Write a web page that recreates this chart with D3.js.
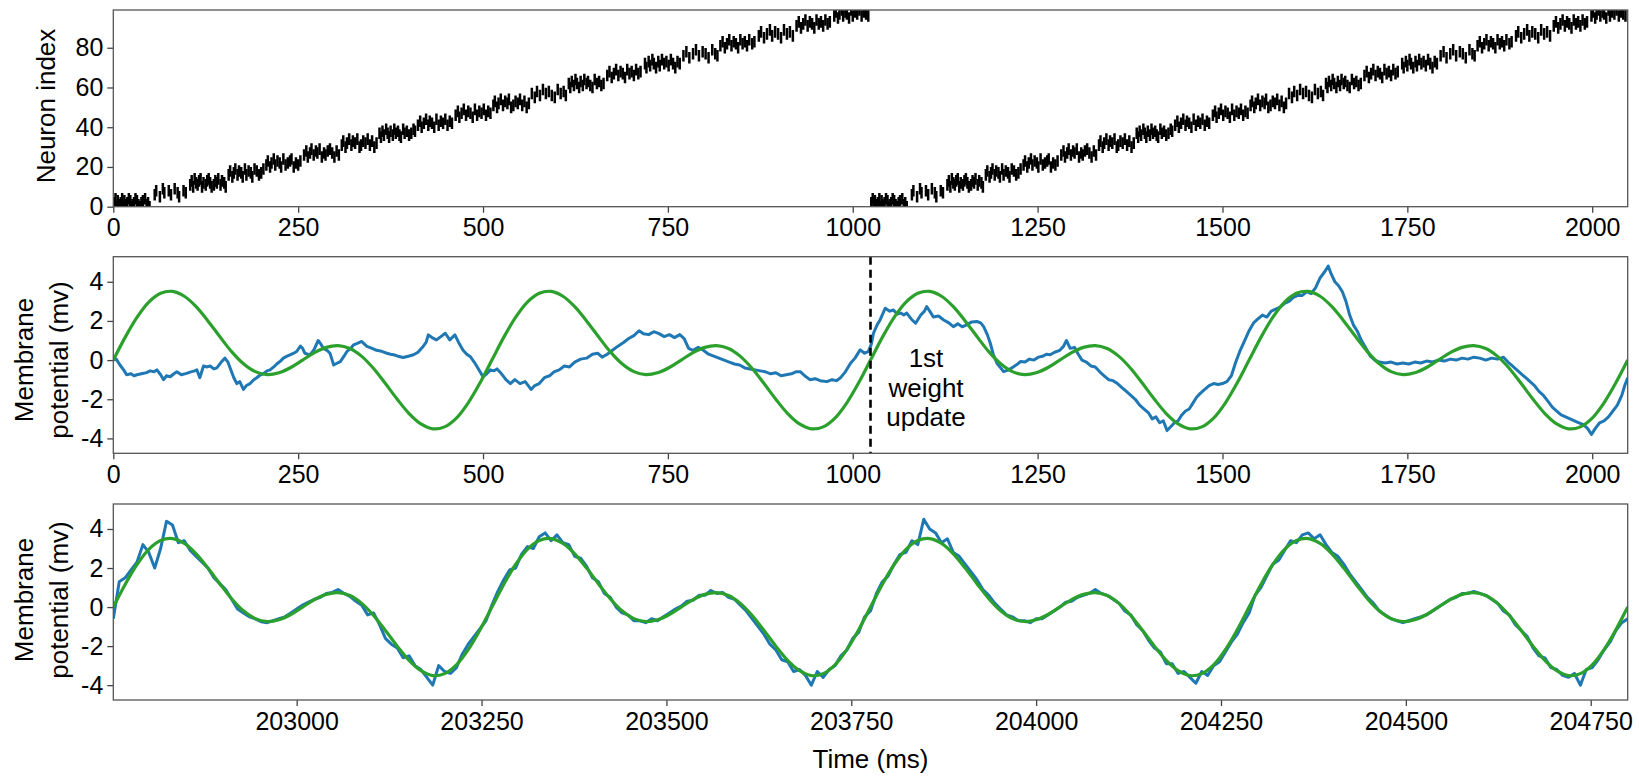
<!DOCTYPE html>
<html><head><meta charset="utf-8">
<script src="https://cdn.jsdelivr.net/npm/d3@7"></script>
<style>
body{margin:0;background:#fff;}
svg text{font-family:"Liberation Sans",Arial,Helvetica,sans-serif;}
</style></head><body>
<svg id="chart" width="1639" height="779"></svg>
<script>
// ---------------- DATA ----------------
// Raster: one input pattern (ms within pattern, neuron index); the pattern is presented at these offsets
const patternOffsets = [0, 1024];
const spikeTimes = [
1,3,4,6,8,10,12,13,15,17,19,21,23,24,26,28,30,32,34,36,38,40,43,45,47,49,
56,58,63,67,69,75,78,83,87,89,95,98,
104,106,108,110,112,114,116,118,120,122,125,127,129,131,133,136,138,140,142,145,147,150,152,
156,158,161,163,165,168,170,173,175,178,180,183,186,188,191,194,197,200,203,
207,209,212,214,217,219,222,225,227,230,233,236,239,241,244,247,250,253,
258,261,263,266,268,271,274,276,279,282,285,287,290,293,296,299,302,305,
309,311,314,316,319,322,324,327,330,333,335,338,341,344,347,350,353,356,
360,362,364,366,369,371,373,375,378,380,382,385,387,389,392,394,397,400,403,406,408,
412,415,417,420,423,426,428,431,434,437,440,443,446,449,452,455,458,
463,466,468,471,474,477,480,483,486,489,492,495,498,501,504,507,510,
514,516,519,521,524,527,530,533,535,538,541,544,547,550,553,556,559,562,
566,570,573,577,581,585,589,593,597,601,605,609,612,
616,618,620,623,625,627,630,632,635,637,640,642,645,648,651,654,657,660,663,
668,671,674,677,680,683,686,689,692,695,698,701,704,707,710,713,
719,721,724,726,729,731,734,737,739,742,745,748,751,754,757,760,763,766,
771,775,779,784,788,792,797,801,805,810,814,817,
821,824,827,830,833,836,839,842,845,848,851,854,857,860,864,867,
873,876,880,884,888,891,895,899,903,907,911,915,919,
924,927,930,933,936,939,942,945,948,951,954,957,960,963,966,969,
975,977,980,982,985,987,990,992,995,998,1000,1003,1006,1009,1012,1015,1018,1021
];
const spikeNeurons = [
2,4,0,3,1,2,4,0,3,1,2,4,3,0,1,2,4,3,1,0,2,3,4,1,2,0,
6,8,5,9,7,8,6,9,7,5,8,7,
11,13,10,14,12,11,13,14,10,12,11,13,14,12,10,11,13,12,14,11,13,12,10,
16,18,15,17,19,16,18,17,15,19,16,18,17,15,19,18,16,17,19,
21,23,20,22,24,21,23,22,20,24,21,22,23,24,20,22,21,23,
26,28,25,27,29,26,28,27,29,25,27,26,28,29,27,25,28,26,
31,33,30,32,34,31,33,32,34,30,31,33,32,34,31,33,30,32,
37,35,38,36,39,37,35,38,36,39,37,38,36,35,39,37,38,36,37,39,38,
41,43,40,42,44,41,43,42,40,44,41,43,42,44,41,43,42,
46,48,45,47,49,46,48,47,45,49,46,48,47,49,46,48,47,
51,53,50,52,54,51,53,52,54,50,51,53,52,54,51,53,50,52,
57,55,58,56,59,57,58,56,55,59,57,58,56,
62,60,63,61,64,62,60,63,61,64,62,63,61,60,64,62,63,61,62,
66,68,65,67,69,66,68,67,65,69,67,68,66,69,67,68,
72,70,73,71,74,72,70,73,71,74,72,73,71,74,72,70,73,72,
76,78,75,77,79,76,78,77,75,79,77,76,
81,83,80,82,84,81,83,82,80,84,82,83,81,84,82,83,
86,88,85,87,89,86,88,87,85,89,87,88,86,
91,93,90,92,94,91,93,92,90,94,92,93,91,94,92,93,
96,98,95,97,99,96,98,97,95,99,96,98,97,99,96,98,97,96
];

// Target membrane potential (mV), sampled every 16 ms
const targetStep = 16;
const targetValues = [
0,1.16,2.18,2.96,3.41,3.51,3.26,2.73,2.0,1.2,0.43,-0.19,-0.59,-0.74,-0.65,-0.38,0,0.38,0.65,0.74,0.59,0.19,-0.43,-1.2,-2.0,-2.73,-3.26,-3.51,-3.41,-2.96,-2.18,-1.16,
0,1.16,2.18,2.96,3.41,3.51,3.26,2.73,2.0,1.2,0.43,-0.19,-0.59,-0.74,-0.65,-0.38,0,0.38,0.65,0.74,0.59,0.19,-0.43,-1.2,-2.0,-2.73,-3.26,-3.51,-3.41,-2.96,-2.18,-1.16,
0,1.16,2.18,2.96,3.41,3.51,3.26,2.73,2.0,1.2,0.43,-0.19,-0.59,-0.74,-0.65,-0.38,0,0.38,0.65,0.74,0.59,0.19,-0.43,-1.2,-2.0,-2.73,-3.26,-3.51,-3.41,-2.96,-2.18,-1.16,
0,1.16,2.18,2.96,3.41,3.51,3.26,2.73,2.0,1.2,0.43,-0.19,-0.59,-0.74,-0.65,-0.38,0,0.38,0.65,0.74,0.59,0.19,-0.43,-1.2,-2.0,-2.73,-3.26,-3.51,-3.41,-2.96,-2.18,-1.16,
0
];

// Membrane potential during first 2048 ms: [time ms, mV]
const trainTrace = [
[0,0.0],[4,0.05],[9,-0.25],[14,-0.5],[18,-0.75],[24,-0.7],[28,-0.8],[32,-0.75],[38,-0.7],[45,-0.64],
[50,-0.55],[55,-0.6],[59,-0.5],[64,-0.75],[68,-1.0],[72,-0.8],[77,-0.85],[82,-0.7],[86,-0.6],[92,-0.75],
[99,-0.68],[105,-0.6],[110,-0.55],[113,-0.5],[117,-0.9],[122,-0.3],[127,-0.35],[131,-0.3],[136,-0.45],[140,-0.4],
[146,-0.1],[151,0.1],[155,-0.1],[158,-0.4],[163,-0.9],[167,-1.2],[171,-1.1],[176,-1.5],[180,-1.3],[185,-1.2],
[190,-1.0],[194,-0.9],[199,-0.75],[203,-0.7],[208,-0.55],[212,-0.5],[217,-0.35],[221,-0.2],[226,-0.05],[230,0.1],
[235,0.2],[239,0.27],[244,0.35],[248,0.44],[253,0.72],[256,0.6],[259,0.35],[263,0.3],[266,0.27],[271,0.5],
[277,1.0],[281,0.8],[284,0.6],[289,0.5],[293,0.35],[296,0.0],[298,-0.25],[303,-0.15],[307,-0.08],[312,0.2],
[316,0.44],[321,0.6],[325,0.78],[330,0.85],[336,0.95],[340,0.8],[343,0.7],[350,0.6],[356,0.5],[363,0.45],
[370,0.35],[375,0.3],[379,0.27],[385,0.2],[392,0.13],[399,0.2],[406,0.27],[412,0.4],[419,0.7],[423,0.9],
[426,1.29],[431,1.15],[437,1.03],[443,1.2],[449,1.37],[455,1.03],[462,1.29],[467,0.9],[473,0.5],[478,0.3],
[483,0.17],[488,-0.1],[492,-0.34],[496,-0.6],[500,-0.85],[505,-0.7],[510,-0.5],[515,-0.55],[519,-0.45],[525,-0.7],
[531,-1.0],[537,-1.2],[543,-1.0],[550,-1.2],[557,-1.1],[565,-1.5],[570,-1.3],[576,-1.2],[583,-0.9],[590,-0.8],
[596,-0.6],[603,-0.5],[610,-0.3],[617,-0.35],[624,-0.1],[632,0.05],[640,0.1],[648,0.3],[655,0.35],[661,0.15],
[668,0.3],[675,0.5],[682,0.7],[690,0.9],[697,1.1],[704,1.25],[711,1.5],[717,1.35],[724,1.3],[731,1.45],
[738,1.35],[745,1.2],[752,1.3],[759,1.15],[766,1.3],[772,1.1],[778,0.6],[784,0.5],[791,0.65],[798,0.5],
[805,0.3],[812,0.2],[819,0.1],[826,0.0],[833,-0.1],[840,-0.2],[847,-0.25],[854,-0.4],[861,-0.45],[868,-0.5],
[875,-0.55],[882,-0.6],[889,-0.7],[896,-0.65],[903,-0.8],[910,-0.75],[917,-0.7],[923,-0.6],[929,-0.59],[935,-0.8],
[942,-1.0],[949,-0.95],[956,-1.05],[965,-1.1],[972,-1.0],[978,-1.05],[983,-0.92],[990,-0.6],[997,-0.16],[1003,0.1],
[1010,0.52],[1016,0.35],[1021,0.43],[1025,0.8],[1028,1.37],[1033,1.8],[1037,2.05],[1041,2.4],[1044,2.65],[1050,2.5],
[1055,2.56],[1060,2.35],[1065,2.4],[1069,2.3],[1073,2.4],[1079,2.1],[1085,1.88],[1092,2.3],[1097,2.5],[1100,2.73],
[1105,2.45],[1109,2.2],[1116,2.25],[1123,2.05],[1130,1.9],[1136,1.71],[1142,1.85],[1148,1.7],[1154,1.8],[1161,1.95],
[1168,1.97],[1173,1.9],[1177,1.71],[1182,1.3],[1186,0.86],[1190,0.3],[1195,-0.16],[1200,-0.4],[1204,-0.59],[1211,-0.5],
[1218,-0.33],[1223,-0.2],[1227,-0.07],[1233,-0.1],[1239,0.05],[1245,0.0],[1251,0.15],[1257,0.2],[1262,0.3],[1267,0.27],
[1273,0.4],[1280,0.5],[1285,0.7],[1289,1.0],[1294,0.6],[1300,0.65],[1305,0.3],[1310,0.0],[1316,-0.1],[1322,-0.3],
[1328,-0.35],[1334,-0.6],[1340,-0.8],[1346,-1.0],[1352,-1.05],[1358,-1.2],[1364,-1.4],[1370,-1.6],[1376,-1.8],[1382,-2.0],
[1388,-2.3],[1394,-2.5],[1400,-2.7],[1405,-3.0],[1410,-2.9],[1415,-3.2],[1420,-3.1],[1425,-3.6],[1430,-3.4],[1435,-3.2],
[1440,-3.1],[1445,-2.8],[1450,-2.6],[1455,-2.5],[1460,-2.2],[1465,-1.9],[1470,-1.7],[1476,-1.5],[1482,-1.3],[1488,-1.2],
[1494,-1.25],[1500,-1.2],[1506,-1.1],[1512,-0.8],[1518,-0.1],[1524,0.5],[1530,1.0],[1536,1.5],[1542,1.9],[1548,2.1],
[1554,2.3],[1560,2.2],[1566,2.5],[1572,2.6],[1578,2.7],[1584,2.9],[1590,3.0],[1596,3.2],[1602,3.3],[1608,3.3],
[1614,3.5],[1620,3.4],[1626,3.7],[1632,4.2],[1638,4.5],[1643,4.8],[1647,4.4],[1652,4.0],[1657,3.8],[1662,3.5],
[1667,3.0],[1672,2.3],[1677,1.8],[1682,1.5],[1688,1.0],[1694,0.6],[1700,0.2],[1706,0.0],[1712,-0.1],[1720,-0.15],
[1728,-0.1],[1736,-0.2],[1744,-0.15],[1752,-0.2],[1760,-0.1],[1768,-0.15],[1776,-0.05],[1784,-0.1],[1792,0.0],[1800,-0.05],
[1808,0.05],[1816,0.0],[1824,0.1],[1832,0.05],[1840,0.15],[1848,0.1],[1856,0.0],[1864,0.1],[1872,0.05],[1880,0.15],
[1886,-0.1],[1892,-0.3],[1898,-0.5],[1904,-0.7],[1910,-0.9],[1916,-1.1],[1922,-1.3],[1928,-1.6],[1934,-1.8],[1940,-2.1],
[1946,-2.4],[1952,-2.6],[1958,-2.8],[1964,-2.9],[1970,-3.0],[1976,-3.1],[1982,-3.2],[1988,-3.3],[1994,-3.5],[1999,-3.8],
[2004,-3.5],[2010,-3.2],[2016,-3.1],[2022,-2.9],[2028,-2.6],[2034,-2.3],[2040,-1.8],[2044,-1.3],[2048,-0.9]
];

// Membrane potential after learning, sampled every 8 ms from 202752 ms
const testStart = 202752;
const testStep = 8;
const testValues = [
-0.6,1.3,1.5,1.9,2.3,3.2,2.8,2.0,3.0,4.4,4.2,3.3,3.4,2.9,2.6,2.3,2.0,1.5,1.2,0.9,
0.4,-0.1,-0.3,-0.5,-0.6,-0.75,-0.8,-0.7,-0.6,-0.5,-0.3,-0.1,0.1,0.25,0.4,0.5,0.7,0.75,0.9,0.7,
0.55,0.3,0.1,-0.4,-0.3,-0.9,-1.6,-1.9,-2.1,-2.6,-2.5,-3.0,-3.2,-3.6,-4.0,-3.0,-3.3,-3.4,-3.1,-2.4,
-1.9,-1.5,-1.1,-0.7,
0.1,0.8,1.4,1.9,2.0,2.7,3.1,3.0,3.6,3.8,
3.4,3.7,3.3,3.2,2.6,2.5,2.1,1.5,1.3,0.7,
0.5,0.0,-0.3,-0.4,-0.7,-0.7,-0.8,-0.6,-0.7,-0.5,
-0.3,-0.1,0.05,0.3,0.35,0.6,0.6,0.85,0.7,0.75,
0.5,0.4,0.1,-0.2,-0.6,-1.0,-1.4,-1.9,-2.2,-2.7,
-2.8,-3.3,-3.2,-3.5,-4.0,-3.3,-3.6,-3.2,-3.0,-2.5,
-2.2,-1.6,-1.3,-0.5,
-0.2,0.7,1.3,1.6,2.2,2.7,2.8,3.4,3.2,4.5,
4.0,3.8,3.3,3.5,2.8,2.6,2.2,1.8,1.4,0.9,
0.6,0.2,-0.1,-0.4,-0.5,-0.7,-0.7,-0.8,-0.6,-0.6,
-0.4,-0.2,0.0,0.25,0.3,0.5,0.6,0.7,0.9,0.7,
0.6,0.4,0.2,-0.2,-0.4,-0.9,-1.2,-1.7,-2.1,-2.3,
-2.9,-2.9,-3.4,-3.3,-3.6,-3.9,-3.3,-3.5,-3.0,-2.8,
-2.3,-1.8,-1.4,-0.8,
-0.3,0.6,1.0,1.6,2.2,2.4,2.9,3.4,3.3,3.7,
3.8,3.5,3.7,3.2,2.8,2.6,2.2,1.7,1.3,0.9,
0.5,0.2,-0.2,-0.4,-0.6,-0.7,-0.8,-0.7,-0.6,-0.5,
-0.4,-0.2,0.0,0.2,0.4,0.5,0.7,0.7,0.8,0.7,
0.6,0.4,0.2,-0.2,-0.4,-0.9,-1.2,-1.5,-2.1,-2.5,
-2.6,-3.1,-3.2,-3.5,-3.6,-3.4,-4.0,-3.2,-3.1,-2.7,
-2.2,-1.8,-1.2,-0.8,-0.6
];

const firstUpdateTime = 1024;
const timeTicks = [0,250,500,750,1000,1250,1500,1750,2000];
const lateTicks = [203000,203250,203500,203750,204000,204250,204500,204750];
const neuronTicks = [0,20,40,60,80];
const mvTicks = [-4,-2,0,2,4];

// ---------------- DRAW ----------------
const svg = d3.select('#chart');
const L = 113.3, R = 1627.7;
const P = {top:[10,206.7], mid:[256.7,453.3], bot:[504,700]};
const FONT = 25, LFONT = 26;

const xEarly = d3.scaleLinear().domain([0,2048]).range([L,R]);
const xLate = d3.scaleLinear().domain([testStart, testStart+2048]).range([L,R]);
const yRaster = d3.scaleLinear().domain([0,99]).range([P.top[1],P.top[0]]);
const yMid = d3.scaleLinear().domain([-4.76,5.28]).range([P.mid[1],P.mid[0]]);
const yBot = d3.scaleLinear().domain([-4.76,5.28]).range([P.bot[1],P.bot[0]]);

const defs = svg.append('defs');
Object.entries(P).forEach(([k,[y0,y1]])=>{
  defs.append('clipPath').attr('id','clip-'+k).append('rect')
    .attr('x',L).attr('y',y0).attr('width',R-L).attr('height',y1-y0);
});

function axes(x, y, xt, yt, y0, y1, fmt){
  const gx = svg.append('g').attr('transform',`translate(0,${y1})`)
    .call(d3.axisBottom(x).tickValues(xt).tickSize(6).tickPadding(6).tickFormat(fmt||(d=>String(d))));
  const gy = svg.append('g').attr('transform',`translate(${L},0)`)
    .call(d3.axisLeft(y).tickValues(yt).tickSize(6).tickPadding(4).tickFormat(d=>String(d)));
  [gx,gy].forEach(g=>{
    g.select('.domain').remove();
    g.attr('font-size',FONT).attr('font-family','"Liberation Sans",Arial,sans-serif').attr('color','#444');
    g.selectAll('line').attr('stroke-width',1.3);
    g.selectAll('text').attr('fill','#000');
  });
}
function frame(y0,y1){
  svg.append('rect').attr('x',L).attr('y',y0).attr('width',R-L).attr('height',y1-y0)
    .attr('fill','none').attr('stroke','#555').attr('stroke-width',1.3);
}
function ylabel(lines, xs, cy){
  lines.forEach((t,i)=>{
    svg.append('text').attr('transform',`translate(${xs[i]},${cy}) rotate(-90)`)
      .attr('text-anchor','middle').attr('dy','0.35em').attr('font-size',LFONT).attr('fill','#000').text(t);
  });
}

// --- Top raster ---
const spikes = [];
patternOffsets.forEach(off=>{
  const n = Math.min(spikeTimes.length, spikeNeurons.length);
  for(let i=0;i<n;i++) spikes.push({t:spikeTimes[i]+off, n:spikeNeurons[i]});
});
svg.append('g').attr('clip-path','url(#clip-top)')
  .selectAll('line').data(spikes).join('line')
  .attr('x1',d=>xEarly(d.t)).attr('x2',d=>xEarly(d.t))
  .attr('y1',d=>yRaster(d.n)-5.8).attr('y2',d=>yRaster(d.n)+5.8)
  .attr('stroke','#000').attr('stroke-width',2.5);
axes(xEarly, yRaster, timeTicks, neuronTicks, P.top[0], P.top[1]);
frame(P.top[0], P.top[1]);
ylabel(['Neuron index'], [46], 106);

// --- Middle panel ---
const gMid = svg.append('g').attr('clip-path','url(#clip-mid)');
gMid.append('path').datum(trainTrace)
  .attr('d', d3.line().x(d=>xEarly(d[0])).y(d=>yMid(d[1])))
  .attr('fill','none').attr('stroke','#1f77b4').attr('stroke-width',3).attr('stroke-linejoin','round');
gMid.append('path').datum(targetValues)
  .attr('d', d3.line().x((d,i)=>xEarly(i*targetStep)).y(d=>yMid(d)).curve(d3.curveCatmullRom))
  .attr('fill','none').attr('stroke','#2ca02c').attr('stroke-width',3.2);
svg.append('line').attr('x1',xEarly(firstUpdateTime)).attr('x2',xEarly(firstUpdateTime))
  .attr('y1',P.mid[0]).attr('y2',P.mid[1])
  .attr('stroke','#000').attr('stroke-width',2.6).attr('stroke-dasharray','8,5');
axes(xEarly, yMid, timeTicks, mvTicks, P.mid[0], P.mid[1]);
frame(P.mid[0], P.mid[1]);
ylabel(['Membrane','potential (mv)'], [24,59], 360);
['1st','weight','update'].forEach((t,i)=>{
  svg.append('text').attr('x',926).attr('y',367+i*29.5).attr('text-anchor','middle')
    .attr('font-size',LFONT).attr('fill','#000').text(t);
});

// --- Bottom panel ---
const gBot = svg.append('g').attr('clip-path','url(#clip-bot)');
gBot.append('path').datum(testValues)
  .attr('d', d3.line().x((d,i)=>xLate(testStart+i*testStep)).y(d=>yBot(d)))
  .attr('fill','none').attr('stroke','#1f77b4').attr('stroke-width',3).attr('stroke-linejoin','round');
gBot.append('path').datum(targetValues)
  .attr('d', d3.line().x((d,i)=>xLate(testStart+i*targetStep)).y(d=>yBot(d)).curve(d3.curveCatmullRom))
  .attr('fill','none').attr('stroke','#2ca02c').attr('stroke-width',3.2);
axes(xLate, yBot, lateTicks, mvTicks, P.bot[0], P.bot[1]);
frame(P.bot[0], P.bot[1]);
ylabel(['Membrane','potential (mv)'], [24,59], 600);
svg.append('text').attr('x',(L+R)/2).attr('y',768).attr('text-anchor','middle')
  .attr('font-size',LFONT).attr('fill','#000').text('Time (ms)');
</script>
</body></html>
